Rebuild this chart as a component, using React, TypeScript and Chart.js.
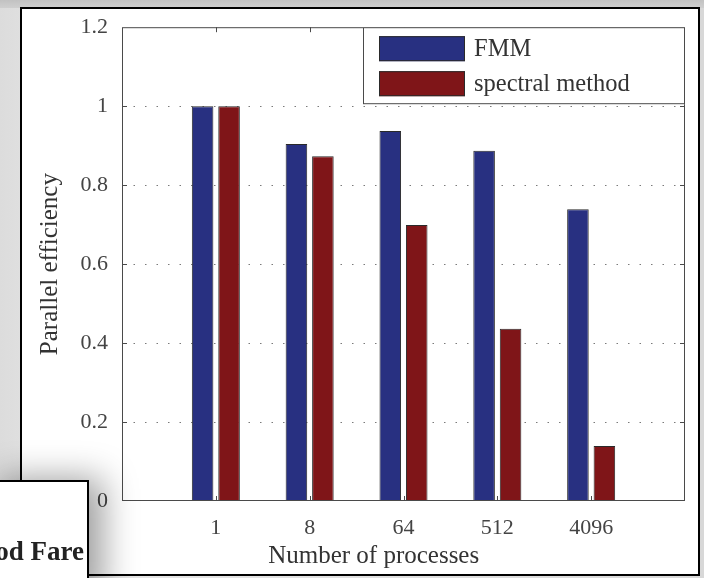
import { useEffect, useRef } from 'react';
import { Chart, registerables } from 'chart.js';

Chart.register(...registerables);

const categories = ['', '1', '8', '64', '512', '4096', ''];
const fmmValues = [null, 1.0, 0.904, 0.937, 0.887, 0.739, null];
const spectralValues = [null, 1.0, 0.873, 0.699, 0.436, 0.139, null];
const seriesNames = ['FMM', 'spectral method'];
const seriesColors = ['#283081', '#7f1518'];
const yTickValues = [0, 0.2, 0.4, 0.6, 0.8, 1, 1.2];
const xTitle = 'Number of processes';
const yTitle = 'Parallel efficiency';

const SERIF = '"Liberation Serif", "Times New Roman", serif';

const framePlugin = {
  id: 'matlabFrame',
  afterDatasetsDraw(chart: any) {
    const { ctx, chartArea: a, scales } = chart;
    const x = scales.x;
    const y = scales.y;
    ctx.save();
    ctx.strokeStyle = '#4a4a4a';
    ctx.lineWidth = 1;
    ctx.setLineDash([]);
    ctx.strokeRect(a.left + 0.5, a.top + 0.5, a.right - a.left - 1, a.bottom - a.top - 1);
    ctx.beginPath();
    categories.forEach((c, i) => {
      if (!c) return;
      const px = Math.round(x.getPixelForValue(i)) + 0.5;
      ctx.moveTo(px, a.top);
      ctx.lineTo(px, a.top + 5);
      ctx.moveTo(px, a.bottom);
      ctx.lineTo(px, a.bottom - 5);
    });
    yTickValues.slice(1, -1).forEach((v) => {
      const py = Math.round(y.getPixelForValue(v)) + 0.5;
      ctx.moveTo(a.left, py);
      ctx.lineTo(a.left + 5, py);
      ctx.moveTo(a.right, py);
      ctx.lineTo(a.right - 5, py);
    });
    ctx.stroke();

    // x axis title
    ctx.fillStyle = '#333';
    ctx.font = `25px ${SERIF}`;
    ctx.textAlign = 'center';
    ctx.textBaseline = 'middle';
    const cx = a.left + (a.right - a.left) * 0.447;
    ctx.fillText(xTitle, cx, a.bottom + 55);
    ctx.restore();
  },
  afterDraw(chart: any) {
    const { ctx, chartArea: a } = chart;
    const w = 322;
    const h = 77;
    const left = a.right - w;
    const top = a.top;
    ctx.save();
    ctx.fillStyle = '#ffffff';
    ctx.fillRect(left, top, w, h);
    ctx.strokeStyle = '#4a4a4a';
    ctx.lineWidth = 1;
    ctx.strokeRect(left + 0.5, top + 0.5, w - 1, h - 1);
    ctx.font = `24.5px ${SERIF}`;
    ctx.textAlign = 'left';
    ctx.textBaseline = 'middle';
    seriesNames.forEach((name, i) => {
      const sy = top + 9 + i * 35;
      ctx.fillStyle = seriesColors[i];
      ctx.fillRect(left + 16, sy, 86, 25);
      ctx.strokeStyle = '#2a2a2a';
      ctx.strokeRect(left + 16.5, sy + 0.5, 85, 24);
      ctx.fillStyle = '#333';
      ctx.fillText(name, left + 111, sy + 13);
    });
    ctx.restore();
  },
};

export default function App() {
  const ref = useRef<HTMLCanvasElement>(null);

  useEffect(() => {
    const canvas = ref.current;
    if (!canvas) return;
    const chart = new Chart(canvas, {
      type: 'bar',
      data: {
        labels: categories,
        datasets: [
          {
            label: seriesNames[0],
            data: fmmValues as any,
            backgroundColor: seriesColors[0],
            borderColor: '#2a2a2a',
            borderWidth: 1,
            categoryPercentage: 0.564,
            barPercentage: 0.815,
          },
          {
            label: seriesNames[1],
            data: spectralValues as any,
            backgroundColor: seriesColors[1],
            borderColor: '#2a2a2a',
            borderWidth: 1,
            categoryPercentage: 0.564,
            barPercentage: 0.815,
          },
        ],
      },
      options: {
        responsive: false,
        animation: false,
        devicePixelRatio: 1,
        layout: { padding: { left: 0, top: 24, right: 19, bottom: 0 } },
        plugins: {
          legend: { display: false },
          tooltip: { enabled: false },
          title: { display: false },
        },
        scales: {
          x: {
            type: 'category',
            offset: false,
            grid: { display: false, drawTicks: false },
            border: { display: false },
            ticks: {
              autoSkip: false,
              maxRotation: 0,
              padding: 14,
              color: '#444',
              font: { family: SERIF, size: 22 },
            },
            afterFit: (s: any) => {
              s.height = 77;
            },
          },
          y: {
            type: 'linear',
            min: 0,
            max: 1.2,
            afterBuildTicks: (s: any) => {
              s.ticks = yTickValues.map((v) => ({ value: v }));
            },
            afterFit: (s: any) => {
              s.width = 122;
            },
            grid: {
              drawTicks: false,
              lineWidth: 1,
              color: (c: any) =>
                c.index === 0 || c.index === yTickValues.length - 1 ? 'rgba(0,0,0,0)' : '#7a7a7a',
            },
            border: { display: false, dash: [1.5, 10] },
            ticks: {
              padding: 14,
              color: '#444',
              font: { family: SERIF, size: 22 },
              callback: (v: any) => String(v),
            },
            title: {
              display: true,
              text: yTitle,
              color: '#333',
              font: { family: SERIF, size: 25 },
              padding: { top: 35, bottom: 0 },
            },
          },
        },
      },
      plugins: [framePlugin],
    });
    return () => chart.destroy();
  }, []);

  return (
    <div
      style={{
        position: 'fixed',
        left: 0,
        top: 0,
        width: 704,
        height: 578,
        overflow: 'hidden',
        background: 'linear-gradient(to right, #dcdcdc, #e6e6e6 10%, #d8d8d8)',
      }}
    >
      <div
        style={{
          position: 'absolute',
          left: 0,
          top: 0,
          width: 704,
          height: 8,
          background: 'linear-gradient(#c2c2c2, #cfcfcf)',
        }}
      />
      <div
        style={{
          position: 'absolute',
          left: 20,
          top: 7,
          width: 676,
          height: 565,
          background: '#ffffff',
          border: '2px solid #000',
        }}
      />
      <canvas
        ref={ref}
        width={704}
        height={578}
        style={{ position: 'absolute', left: 0, top: 0, width: 704, height: 578 }}
      />
      <div
        style={{
          position: 'absolute',
          left: -2,
          top: 480,
          width: 89,
          height: 110,
          background: '#ffffff',
          borderTop: '2px solid #000',
          borderRight: '2px solid #000',
          boxShadow: '8px 4px 34px 6px rgba(0,0,0,0.38)',
          overflow: 'hidden',
        }}
      >
        <span
          style={{
            position: 'absolute',
            right: 3,
            top: 56,
            whiteSpace: 'nowrap',
            fontFamily: SERIF,
            fontWeight: 'bold',
            fontSize: 27,
            lineHeight: 1,
            color: '#222',
          }}
        >
          od Fare
        </span>
      </div>
    </div>
  );
}
